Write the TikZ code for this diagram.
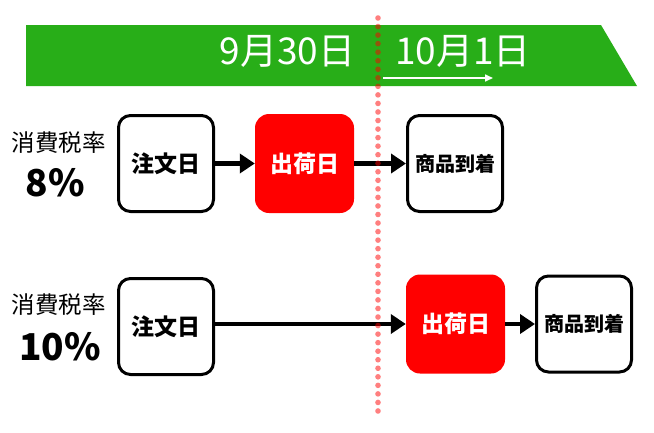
\documentclass[tikz,border=0pt]{standalone}
\usepackage{fontspec}
\setmainfont{Noto Sans CJK JP}
\usetikzlibrary{arrows.meta}
\definecolor{bannergreen}{HTML}{28AE18}
\definecolor{boxred}{HTML}{FF0000}
\tikzset{
  whitebox/.style={draw=black, line width=3pt, fill=white, rounded corners=12pt, minimum width=95pt, minimum height=96pt, inner sep=0pt, font=\fontsize{23}{23}\selectfont\bfseries},
  smallbox/.style={whitebox, font=\fontsize{20}{20}\selectfont\bfseries},
  redbox/.style={fill=boxred, rounded corners=14pt, minimum width=99pt, minimum height=99pt, inner sep=0pt, text=white, font=\fontsize{23}{23}\selectfont\bfseries},
  flow/.style={line width=4.5pt, -{Triangle[length=15pt,width=19pt]}},
  ratelabel/.style={font=\fontsize{23.5}{23.5}\selectfont, inner sep=0pt},
  ratevalue/.style={font=\fontsize{37}{37}\selectfont\bfseries, inner sep=0pt},
  datelabel/.style={font=\fontsize{37}{37}\selectfont, text=white, inner sep=0pt},
  dotmark/.style={fill=red, fill opacity=0.5, draw=none},
}
\begin{document}
\begin{tikzpicture}[x=1pt,y=-1pt]
\useasboundingbox (0,0) rectangle (654,432);
% banner
\fill[bannergreen] (26,25) -- (601,25) -- (637,86) -- (26,86) -- cycle;
\node[datelabel] (d1) at (287.5,51) {9月30日};
\node[datelabel] (d2) at (463,51) {10月1日};
\coordinate (wa) at (383,78);
\coordinate (wb) at (493,78);
\draw[white, line width=1.6pt, -{Triangle[length=8pt,width=7pt]}] (wa) -- (wb);
% row 1
\node[ratelabel] (r1a) at (59,143) {消費税率};
\node[ratevalue] (r1b) at (55,183) {8\%};
\node[whitebox] (a1) at (166,163.5) {注文日};
\node[redbox] (b1) at (304.5,163.5) {出荷日};
\node[smallbox] (c1) at (455,163.5) {商品到着};
\draw[flow] (a1) -- (b1);
\draw[flow] (b1) -- (c1);
% row 2
\node[ratelabel] (r2a) at (59,305) {消費税率};
\node[ratevalue] (r2b) at (60,347) {10\%};
\node[whitebox] (a2) at (166,326.5) {注文日};
\node[redbox] (b2) at (455.5,324) {出荷日};
\node[smallbox] (c2) at (584,324) {商品到着};
\draw[flow] (a2.east |- b2.west) -- (b2.west);
\draw[flow] (b2) -- (c2);
% dotted boundary
\foreach \i in {0,...,46} {
  \fill[dotmark] (378,18+8.543*\i) circle (2.8pt);
}
\end{tikzpicture}
\end{document}
